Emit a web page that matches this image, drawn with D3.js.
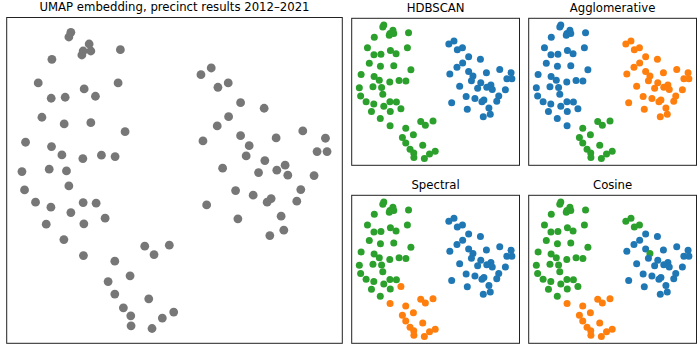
<!DOCTYPE html>
<html>
<head>
<meta charset="utf-8">
<script src="https://cdn.jsdelivr.net/npm/d3@7"></script>
<style>
  html, body { margin: 0; padding: 0; background: #fff; }
  svg { display: block; font-family: "DejaVu Sans", sans-serif; }
</style>
</head>
<body>
<svg id="chart"></svg>
<script>
// UMAP coordinates of each precinct (embedding units)
const umapX = [
  7.07, 6.87, 8.90, 8.30, 9.07, 8.17, 12.03, 5.17, 3.80, 11.80,
  8.40, 5.10, 6.50, 9.53, 4.17, 6.40, 9.07, 12.50, 2.53, 5.13,
  6.17, 8.27, 10.13, 11.50, 2.17, 4.90, 6.63, 2.43, 6.87, 3.53,
  5.07, 8.30, 9.60, 7.07, 4.60, 8.37, 10.50, 6.37, 8.33, 14.47,
  15.40, 16.93, 11.47, 13.00, 10.80, 11.47, 14.87, 12.33, 13.07, 13.10,
  16.23, 17.37, 15.20, 20.10, 21.13, 21.80, 22.83, 24.07, 26.43, 22.87,
  21.73, 20.30, 24.07, 24.93, 27.63, 30.30, 32.57, 31.73, 32.73, 24.63,
  26.50, 28.53, 27.70, 22.27, 25.87, 28.80, 31.43, 23.57, 25.33, 27.13,
  26.73, 30.10, 29.70, 20.67, 23.80, 28.13, 28.40, 27.00
];
const umapY = [
  31.77, 31.30, 30.60, 29.90, 29.90, 29.50, 30.03, 29.07, 26.70, 26.70,
  26.10, 25.17, 25.27, 25.37, 23.27, 22.60, 22.73, 21.83, 20.77, 20.33,
  19.50, 19.13, 19.47, 19.33, 17.83, 18.07, 17.90, 16.00, 16.40, 14.77,
  14.27, 14.73, 14.67, 13.73, 12.57, 12.60, 13.17, 11.03, 9.43, 10.37,
  9.53, 10.47, 8.87, 7.40, 6.83, 5.57, 5.10, 4.20, 3.40, 2.40,
  3.17, 3.77, 2.13, 27.53, 28.20, 26.27, 26.70, 24.73, 24.17, 23.33,
  22.40, 20.90, 21.43, 20.43, 21.20, 21.90, 21.17, 19.83, 19.83, 19.40,
  18.93, 18.47, 17.97, 18.17, 17.73, 17.47, 17.43, 15.93, 15.47, 15.13,
  14.77, 16.03, 14.87, 14.50, 13.10, 13.37, 11.97, 11.43
];

// cluster labels per method, one digit per precinct (colour index in tab10)
const hdbscanLabels =       "2222222222 2222222222 2222222222 2222222222 2222222222 2220000000 0000000000 0000000000 00000000";
const agglomerativeLabels = "0000000000 0000000000 0000000000 0000000002 2222222222 2221111111 1111111111 1111111111 11111111";
const spectralLabels =      "2222222222 2222222222 2222222222 2222221211 1111111111 1110000000 0000000000 0000000000 00000000";
const cosineLabels =        "2222222222 2222222222 2222222222 2222222211 1111111111 1112222000 0002000000 0000000000 00000000";

const mainTitle = "UMAP embedding, precinct results 2012\u20132021";
const methodTitles = ["HDBSCAN", "Agglomerative", "Spectral", "Cosine"];

const tab10 = ["#1f77b4", "#ff7f0e", "#2ca02c"];
const width = 700, height = 350;

const points = umapX.map((x, i) => ({ x: x, y: umapY[i] }));
const parseLabels = (s) => s.replace(/\s+/g, "").split("").map(Number);
const methodLabels = [hdbscanLabels, agglomerativeLabels, spectralLabels, cosineLabels].map(parseLabels);

const svg = d3.select("#chart")
    .attr("width", width)
    .attr("height", height);

// pad the data extent by 5% like matplotlib's default margins
function padded(ext) {
    const p = (ext[1] - ext[0]) * 0.05;
    return [ext[0] - p, ext[1] + p];
}
const xDomain = padded(d3.extent(umapX));
const yDomain = padded(d3.extent(umapY));

function drawPanel(box, title, colorOf, r) {
    const xScale = d3.scaleLinear().domain(xDomain).range([box.x0, box.x1]);
    const yScale = d3.scaleLinear().domain(yDomain).range([box.y1, box.y0]);
    const g = svg.append("g");

    g.append("text")
        .attr("x", (box.x0 + box.x1) / 2)
        .attr("y", box.y0 - 6.2)
        .attr("text-anchor", "middle")
        .attr("font-size", 11.7)
        .attr("fill", "#000")
        .text(title);

    g.selectAll("circle")
        .data(points)
        .enter()
        .append("circle")
        .attr("cx", d => xScale(d.x))
        .attr("cy", d => yScale(d.y))
        .attr("r", r)
        .attr("fill", (d, i) => colorOf(i));

    g.append("rect")
        .attr("x", box.x0)
        .attr("y", box.y0)
        .attr("width", box.x1 - box.x0)
        .attr("height", box.y1 - box.y0)
        .attr("fill", "none")
        .attr("stroke", "#222")
        .attr("stroke-width", 1);
}

drawPanel({ x0: 6.7, x1: 342.3, y0: 17.5, y1: 343.3 }, mainTitle, () => "#777777", 4.4);

const smallBoxes = [
    { x0: 351.7, x1: 519.5, y0: 18.3, y1: 165.3 },
    { x0: 528.7, x1: 696.5, y0: 18.3, y1: 165.3 },
    { x0: 351.7, x1: 519.5, y0: 195.3, y1: 343.3 },
    { x0: 528.7, x1: 696.5, y0: 195.3, y1: 343.3 }
];
smallBoxes.forEach((box, k) => {
    drawPanel(box, methodTitles[k], i => tab10[methodLabels[k][i]], 3.5);
});
</script>
</body>
</html>
